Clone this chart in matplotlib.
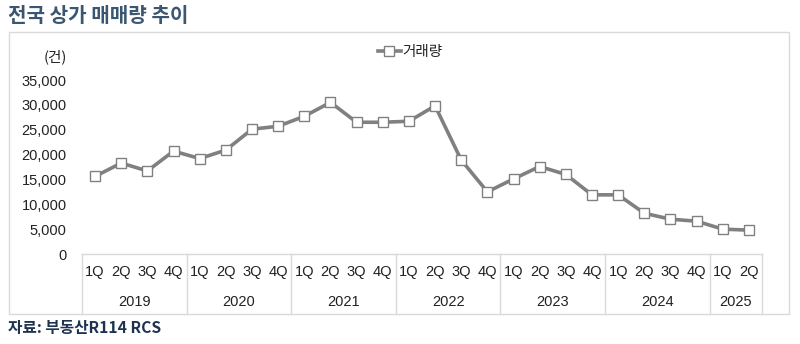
import matplotlib
matplotlib.use("Agg")
import matplotlib.pyplot as plt
from matplotlib.patches import Rectangle
from matplotlib.lines import Line2D

plt.rcParams['font.family'] = ['Noto Sans CJK KR', 'DejaVu Sans']

years = ["2019", "2020", "2021", "2022", "2023", "2024", "2025"]
quarters_per_year = [4, 4, 4, 4, 4, 4, 2]
quarter_labels = ["1Q", "2Q", "3Q", "4Q"] * 6 + ["1Q", "2Q"]
volume = [15600, 18300, 16700, 20700, 19200, 20900, 25100, 25700,
          27700, 30500, 26500, 26500, 26700, 29800, 18900, 12500,
          15100, 17600, 16000, 11900, 11900, 8200, 7000, 6600,
          5000, 4800]
yticks = [0, 5000, 10000, 15000, 20000, 25000, 30000, 35000]

W, H = 800, 344
fig = plt.figure(figsize=(W / 100, H / 100), dpi=100)
fig.patch.set_facecolor("white")

# outer chart border
fig.patches.append(Rectangle((9 / W, 1 - 314 / H), (789 - 9) / W, (314 - 32) / H,
                             transform=fig.transFigure, fill=False,
                             edgecolor="#d9d9d9", linewidth=1.0))

ax_left, ax_right = 82 / W, 762 / W
ax_bottom, ax_top = 1 - 254 / H, 1 - 80 / H
ax = fig.add_axes([ax_left, ax_bottom, ax_right - ax_left, ax_top - ax_bottom])

x = list(range(len(volume)))
ax.plot(x, volume, color="#808080", linewidth=2.6, marker="s", markersize=7.5,
        markerfacecolor="white", markeredgecolor="#808080", markeredgewidth=1.0,
        label="거래량", zorder=3)

tick_font = ['Liberation Sans', 'DejaVu Sans']
fs = 10.5
ax.set_xlim(-0.5, len(volume) - 0.5)
ax.set_ylim(0, 35000)
ax.set_yticks(yticks)
ax.set_yticklabels([f"{v:,}" for v in yticks], fontsize=fs, color="#222222",
                   family=tick_font)
ax.tick_params(axis="y", length=0, pad=11)
ax.set_xticks(x)
ax.set_xticklabels(quarter_labels, fontsize=fs, color="#222222", family=tick_font)
ax.tick_params(axis="x", length=0, pad=8)
for s in ["top", "right", "left"]:
    ax.spines[s].set_visible(False)
ax.spines["bottom"].set_color("#d9d9d9")
ax.spines["bottom"].set_linewidth(1.0)

# year group separators and labels
ax_h_px = 254 - 80
sep_bottom = -(314 - 254) / ax_h_px
trans = ax.get_xaxis_transform()
pos = -0.5
for yr, n in zip(years, quarters_per_year):
    ax.add_line(Line2D([pos, pos], [0, sep_bottom], transform=trans, color="#d9d9d9",
                       linewidth=1.0, clip_on=False))
    ax.text(pos + n / 2, -(302 - 254) / ax_h_px, yr, transform=trans, ha="center",
            va="center", fontsize=fs, color="#222222", family=tick_font)
    pos += n
ax.add_line(Line2D([pos, pos], [0, sep_bottom], transform=trans, color="#d9d9d9",
                   linewidth=1.0, clip_on=False))

# unit label
fig.text(55 / W, 1 - 57 / H, "(건)", ha="center", va="center", fontsize=fs, color="#222222")

# legend
leg = fig.legend(loc="center", bbox_to_anchor=(410 / W, 1 - 52 / H), frameon=False,
                 fontsize=fs, handlelength=1.6, handletextpad=0.1, borderpad=0)
for t in leg.get_texts():
    t.set_color("#222222")

# title and source
fig.text(8 / W, 1 - 15 / H, "전국 상가 매매량 추이", ha="left", va="center",
         fontsize=14.5, fontweight="bold", color="#3b5670")
fig.text(8 / W, 1 - 328 / H, "자료: 부동산R114 RCS", ha="left", va="center",
         fontsize=11.3, fontweight="bold", color="#1f3350")

fig.savefig("out.png", dpi=100, facecolor="white")
